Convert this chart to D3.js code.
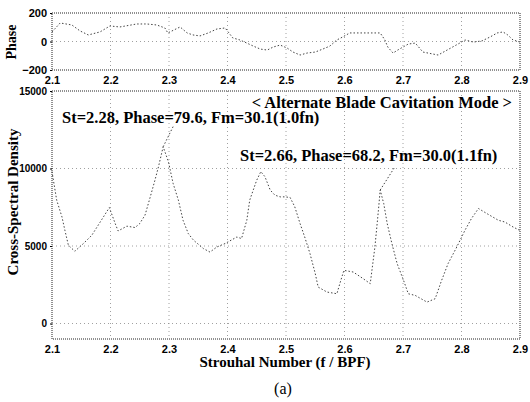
<!DOCTYPE html>
<html>
<head>
<meta charset="utf-8">
<script src="https://cdn.jsdelivr.net/npm/d3@7"></script>
<style>
  body { margin: 0; background: #fff; }
  svg { display: block; font-family: "Liberation Serif", "DejaVu Serif", serif; }
</style>
</head>
<body>
<div id="chart"></div>
<script>
// ---- data ----
const xTicks = [2.1, 2.2, 2.3, 2.4, 2.5, 2.6, 2.7, 2.8, 2.9];
const phaseTicks = [-200, 0, 200];
const csdTicks = [0, 5000, 10000, 15000];

// phase curve (St, deg)
const phaseSt = [2.100, 2.114, 2.134, 2.148, 2.162, 2.182, 2.199, 2.216, 2.245, 2.262, 2.279, 2.293, 2.298,
  2.319, 2.331, 2.341, 2.353, 2.367, 2.382, 2.396, 2.409, 2.421, 2.433, 2.444, 2.456, 2.468, 2.478, 2.490,
  2.502, 2.512, 2.524, 2.536, 2.550, 2.563, 2.575, 2.587, 2.597, 2.609, 2.626, 2.638, 2.661, 2.669, 2.674,
  2.683, 2.691, 2.700, 2.709, 2.721, 2.734, 2.760, 2.797, 2.806, 2.820, 2.835, 2.849, 2.861, 2.871, 2.879,
  2.888, 2.900];
const phaseVal = [67, 130, 116, 74, 46, 67, 109, 102, 123, 123, 116, 95, 60,
  102, 60, 46, 39, 60, 88, 95, 25, 11, -11, -32, -53, -60, -39, -25,
  -46, -74, -95, -81, -74, -53, -32, 11, 32, 60, 60, 60, 60, 11, -39,
  -81, -60, -39, -18, -11, -74, -95, -11, 11, -4, 4, 32, 60, 67, 46,
  11, -4];

// cross-spectral density curve (St, value)
const csdSt = [2.100, 2.108, 2.117, 2.122, 2.128, 2.139, 2.154, 2.168, 2.188, 2.198, 2.208, 2.213, 2.228,
  2.242, 2.250, 2.259, 2.268, 2.276, 2.282, 2.290, 2.299, 2.307, 2.316, 2.324, 2.333, 2.342, 2.359, 2.370,
  2.382, 2.396, 2.416, 2.424, 2.433, 2.438, 2.444, 2.450, 2.457, 2.464, 2.473, 2.481, 2.490, 2.498, 2.507,
  2.515, 2.524, 2.532, 2.541, 2.550, 2.555, 2.570, 2.587, 2.592, 2.599, 2.615, 2.632, 2.644, 2.652, 2.658,
  2.661, 2.667, 2.673, 2.681, 2.690, 2.701, 2.709, 2.721, 2.741, 2.755, 2.766, 2.777, 2.792, 2.806, 2.817,
  2.829, 2.843, 2.863, 2.874, 2.888, 2.900];
const csdVal = [9800, 7960, 6880, 6020, 5050, 4660, 5170, 5690, 6880, 7480, 6450, 5970, 6280,
  6190, 6450, 6990, 8170, 9250, 10110, 11400, 10440, 9040, 7960, 6660, 5800, 5370, 4830, 4610,
  4940, 5160, 5580, 5480, 6660, 7960, 8610, 9250, 9800, 9470, 8610, 8280, 8170, 8170, 8130,
  7530, 6450, 5580, 4510, 3220, 2350, 2030, 1920, 2570, 3430, 3320, 2890, 2570, 4940, 7310,
  8610, 7750, 6450, 5160, 3860, 2780, 1920, 1810, 1380, 1600, 2780, 3860, 4940, 6020, 6770,
  7420, 7100, 6660, 6550, 6230, 6000];

// leader lines from the two peaks to their notes
const leaders = [
  { st: [2.290, 2.307], v: [11400, 12700] },
  { st: [2.661, 2.686], v: [8610, 10100] }
];
const notes = [
  { text: "< Alternate Blade Cavitation Mode >", x: 512, y: 108, anchor: "end" },
  { text: "St=2.28, Phase=79.6, Fm=30.1(1.0fn)", x: 62, y: 123, anchor: "start" },
  { text: "St=2.66, Phase=68.2, Fm=30.0(1.1fn)", x: 240, y: 161, anchor: "start" }
];

const W = 530, H = 402;
const svg = d3.select("#chart").append("svg").attr("width", W).attr("height", H);

const x = d3.scaleLinear().domain([2.1, 2.9]).range([52, 520]);
const yP = d3.scaleLinear().domain([-200, 200]).range([70, 13]);
const yC = d3.scaleLinear().domain([-1000, 15000]).range([339, 91]);

const gridStyle = s => s.attr("stroke", "#888").attr("stroke-width", 0.8).attr("stroke-dasharray", "1,3");
const frameStyle = s => s.attr("fill", "none").attr("stroke", "#222").attr("stroke-width", 1).attr("stroke-dasharray", "1,1");
const curveStyle = s => s.attr("fill", "none").attr("stroke", "#444").attr("stroke-width", 1).attr("stroke-dasharray", "1.5,2");

// ---- phase panel ----
const phaseG = svg.append("g");
phaseG.append("g").selectAll("line").data(xTicks.slice(1, -1)).join("line")
  .attr("x1", d => x(d)).attr("x2", d => x(d)).attr("y1", yP(200)).attr("y2", yP(-200))
  .call(gridStyle);
phaseG.append("line").attr("x1", x(2.1)).attr("x2", x(2.9)).attr("y1", yP(0)).attr("y2", yP(0)).call(gridStyle);
phaseG.append("rect").attr("x", x(2.1)).attr("y", yP(200))
  .attr("width", x(2.9) - x(2.1)).attr("height", yP(-200) - yP(200)).call(frameStyle);

phaseG.append("path")
  .datum(phaseSt.map((s, i) => [s, phaseVal[i]]))
  .call(curveStyle)
  .attr("d", d3.line().x(d => x(d[0])).y(d => yP(d[1])));

const axP = phaseG.append("g").attr("transform", `translate(${x(2.1)},0)`)
  .call(d3.axisLeft(yP).tickValues(phaseTicks).tickSize(2).tickFormat(d3.format("d")));
axP.select(".domain").remove();
axP.selectAll("text").attr("font-size", 11).attr("font-weight", "bold").attr("fill", "#000");

const axPx = phaseG.append("g").attr("transform", `translate(0,${yP(-200)})`)
  .call(d3.axisBottom(x).tickValues(xTicks).tickSize(0).tickPadding(6).tickFormat(d3.format(".1f")));
axPx.select(".domain").remove();
axPx.selectAll("text").attr("font-size", 11).attr("font-weight", "bold").attr("fill", "#000");

svg.append("text").attr("transform", "translate(16,42) rotate(-90)")
  .attr("text-anchor", "middle").attr("font-size", 14).attr("font-weight", "bold").text("Phase");

// ---- cross-spectral density panel ----
const csdG = svg.append("g");
csdG.append("g").selectAll("line").data(xTicks.slice(1, -1)).join("line")
  .attr("x1", d => x(d)).attr("x2", d => x(d)).attr("y1", yC(15000)).attr("y2", yC(-1000))
  .call(gridStyle);
csdG.append("g").selectAll("line").data(csdTicks.slice(0, -1)).join("line")
  .attr("x1", x(2.1)).attr("x2", x(2.9)).attr("y1", d => yC(d)).attr("y2", d => yC(d))
  .call(gridStyle);
csdG.append("rect").attr("x", x(2.1)).attr("y", yC(15000))
  .attr("width", x(2.9) - x(2.1)).attr("height", yC(-1000) - yC(15000)).call(frameStyle);

csdG.append("path")
  .datum(csdSt.map((s, i) => [s, csdVal[i]]))
  .call(curveStyle)
  .attr("d", d3.line().x(d => x(d[0])).y(d => yC(d[1])));

csdG.append("g").selectAll("path").data(leaders).join("path")
  .call(curveStyle)
  .attr("d", d => d3.line()(d.st.map((s, i) => [x(s), yC(d.v[i])])));

const axC = csdG.append("g").attr("transform", `translate(${x(2.1)},0)`)
  .call(d3.axisLeft(yC).tickValues(csdTicks).tickSize(2).tickFormat(d3.format("d")));
axC.select(".domain").remove();
axC.selectAll("text").attr("font-size", 10).attr("font-weight", "bold").attr("fill", "#000");

const axCx = csdG.append("g").attr("transform", `translate(0,${yC(-1000)})`)
  .call(d3.axisBottom(x).tickValues(xTicks).tickSize(0).tickPadding(6).tickFormat(d3.format(".1f")));
axCx.select(".domain").remove();
axCx.selectAll("text").attr("font-size", 11).attr("font-weight", "bold").attr("fill", "#000");

svg.append("text").attr("transform", "translate(18,202) rotate(-90)")
  .attr("text-anchor", "middle").attr("font-size", 15).attr("font-weight", "bold")
  .text("Cross-Spectral  Density");

svg.append("g").selectAll("text").data(notes).join("text")
  .attr("x", d => d.x).attr("y", d => d.y).attr("text-anchor", d => d.anchor)
  .attr("font-size", 16.5).attr("font-weight", "bold").text(d => d.text);

svg.append("text").attr("x", 285).attr("y", 367).attr("text-anchor", "middle")
  .attr("font-size", 15).attr("font-weight", "bold").text("Strouhal Number (f / BPF)");
svg.append("text").attr("x", 283).attr("y", 394).attr("text-anchor", "middle")
  .attr("font-size", 16).text("(a)");
</script>
</body>
</html>
